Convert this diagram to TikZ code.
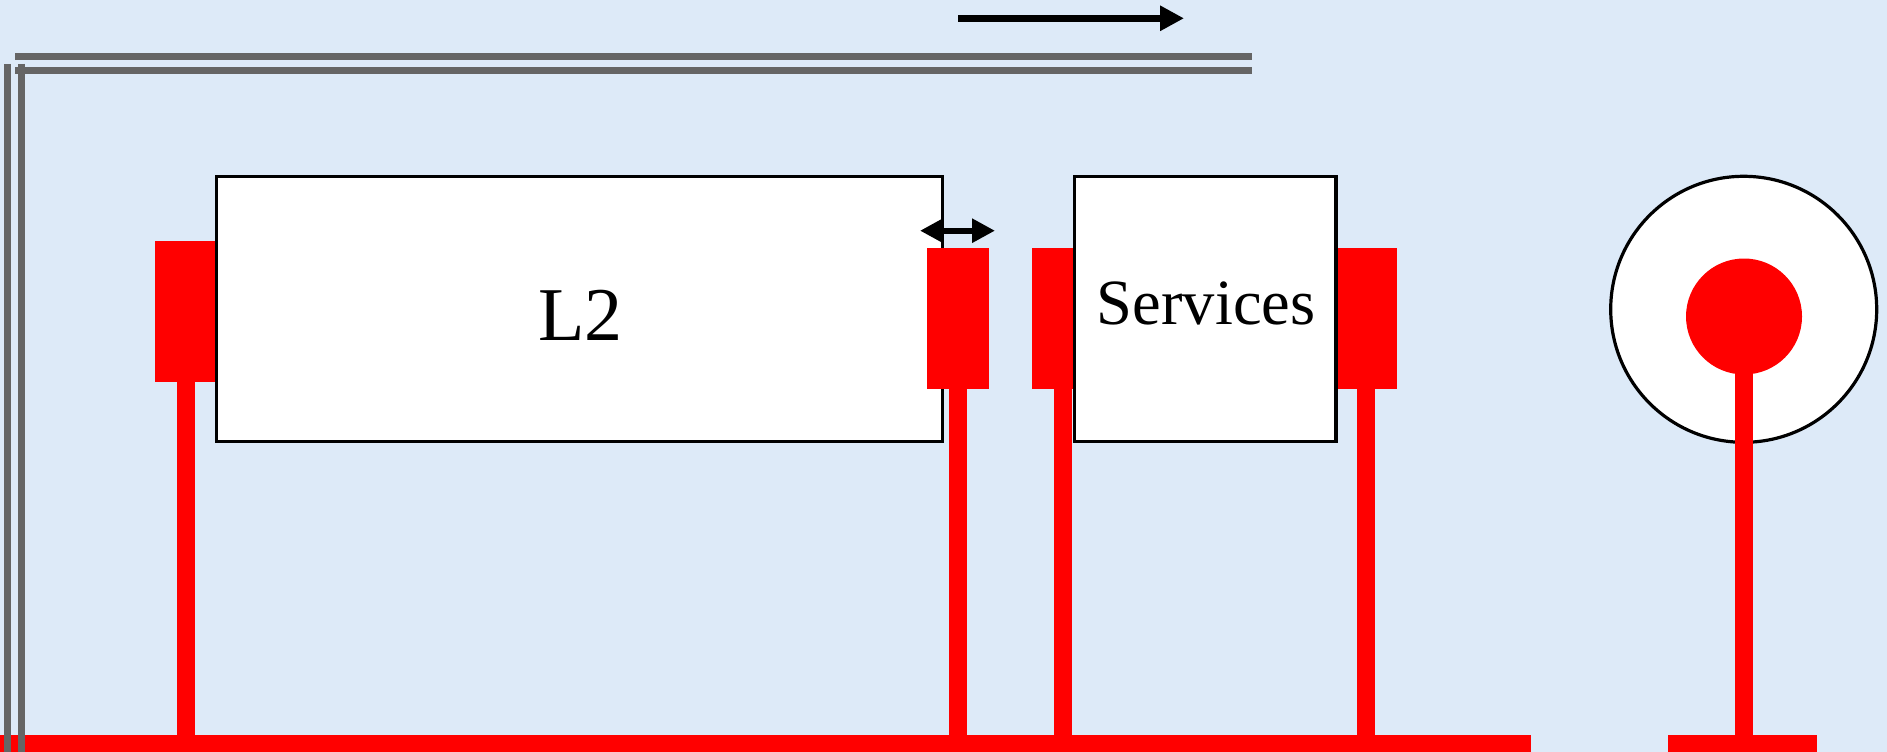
\documentclass[tikz,border=0pt]{standalone}
\usepackage{fontspec}
\setmainfont{Liberation Serif}
\usetikzlibrary{arrows.meta}
\definecolor{paper}{RGB}{221,234,248}
\definecolor{railgray}{RGB}{101,101,101}
\definecolor{signal}{RGB}{255,0,0}
\begin{document}
\begin{tikzpicture}[x=1pt,y=-1pt,
  box/.style={draw=black,line width=3.2pt,fill=white,inner sep=0pt,outer sep=0pt},
  pad/.style={fill=signal,inner sep=0pt,outer sep=0pt,minimum width=62pt,minimum height=141pt},
  bus/.style={fill=signal,inner sep=0pt,outer sep=0pt,minimum height=18pt},
  stem/.style={draw=signal,line width=18pt},
  rail/.style={draw=railgray,line width=7pt},
  boxtext/.style={inner sep=0pt,outer sep=0pt}
]
% canvas
\useasboundingbox (0,0) rectangle (1887,752);
\fill[paper] (0,0) rectangle (1887,752);

% bus bars along the bottom
\node[bus,minimum width=1531pt] (busL) at (765.5,744) {};
\node[bus,minimum width=149pt] (busR) at (1742.5,744) {};

% red pads behind the boxes
\node[pad] (padA) at (186,311.5) {};
\node[pad] (padC) at (1063,318) {};
\node[pad] (padD) at (1366,318) {};

% main boxes
\node[box,minimum width=726pt,minimum height=265pt] (l2) at (579.7,309.2) {};
\node[box,minimum width=261.7pt,minimum height=265pt] (srv) at (1205.2,309.2) {};

% pad in front of the L2 box edge
\node[pad] (padB) at (957.5,318) {};

% box texts
\node[boxtext,font=\fontsize{76}{84}\selectfont] (l2text) at ([yshift=-6pt,xshift=1pt]l2.center) {L2};
\node[boxtext,font=\fontsize{64.5}{72}\selectfont] (srvtext) at ([yshift=6pt,xshift=1pt]srv.center) {Services};

% ring with red dot
\node[circle,draw=black,line width=3.2pt,fill=white,minimum size=266pt,inner sep=0pt] (ring) at (1743.7,309.3) {};
\node[circle,fill=signal,minimum size=116pt,inner sep=0pt] (dot) at (1744,316.5) {};

% stems down to the bus
\draw[stem] (padA.south) -- (padA.south |- busL.north);
\draw[stem] (padB.south) -- (padB.south |- busL.north);
\draw[stem] (padC.south) -- (padC.south |- busL.north);
\draw[stem] (padD.south) -- (padD.south |- busL.north);
\draw[stem] (dot.center) -- (dot.center |- busR.north);

% arrows
\coordinate (fwdA) at (958,18.3);
\coordinate (fwdB) at (1184,18.3);
\draw[line width=7.5pt,-{Triangle[length=24pt,width=24pt]}] (fwdA) -- (fwdB);
\coordinate (gapA) at (920,230.7);
\coordinate (gapB) at (995,230.7);
\draw[line width=6pt,{Triangle[length=23pt,width=23pt]}-{Triangle[length=23pt,width=23pt]}] (gapA) -- (gapB);

% gray rails along top and left
\coordinate (railT1a) at (15,56.5);
\coordinate (railT1b) at (1252,56.5);
\coordinate (railT2a) at (15,71);
\coordinate (railT2b) at (1252,71);
\coordinate (railV1a) at (7.5,64);
\coordinate (railV1b) at (7.5,752);
\coordinate (railV2a) at (21.5,64);
\coordinate (railV2b) at (21.5,752);
\draw[rail] (railT1a) -- (railT1b);
\draw[rail] (railT2a) -- (railT2b);
\draw[rail] (railV1a) -- (railV1b);
\draw[rail] (railV2a) -- (railV2b);
\end{tikzpicture}
\end{document}
